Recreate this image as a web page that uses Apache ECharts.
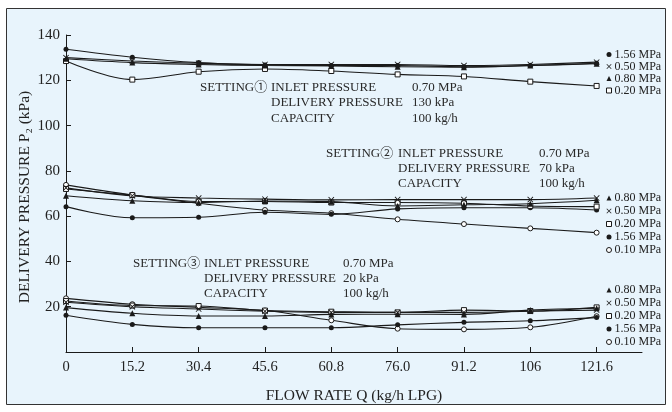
<!DOCTYPE html>
<html>
<head>
<meta charset="utf-8">
<script src="https://cdn.jsdelivr.net/npm/echarts@6/dist/echarts.min.js"></script>
<style>
html,body{margin:0;padding:0;background:#fff;}
#c{width:672px;height:412px;}
</style>
</head>
<body>
<div id="c"></div>
<script>
// ---- data ----
const xValues = [0, 15.2, 30.4, 45.6, 60.8, 76.0, 91.2, 106.4, 121.6];
const xTickLabels = ['0', '15.2', '30.4', '45.6', '60.8', '76.0', '91.2', '106', '121.6'];
const yTicks = [20, 40, 60, 80, 100, 120, 140];

// Setting 1 (delivery 130 kPa)
const s1_156 = [133.7, 130.2, 127.8, 126.8, 126.5, 126.5, 126.0, 126.5, 127.5];
const s1_050 = [130.0, 128.5, 127.5, 127.0, 127.0, 127.0, 126.5, 127.0, 128.0];
const s1_080 = [129.5, 127.8, 127.0, 126.5, 126.3, 126.0, 125.8, 126.5, 127.3];
const s1_020 = [128.5, 120.3, 123.8, 125.0, 124.1, 122.6, 121.7, 119.4, 117.5];

// Setting 2 (delivery 70 kPa)
const s2_080 = [69.0, 66.8, 66.0, 66.7, 66.4, 64.5, 65.0, 65.5, 67.0];
const s2_050 = [72.5, 69.0, 68.0, 67.5, 67.2, 67.3, 67.3, 67.3, 68.0];
const s2_020 = [72.0, 69.3, 66.5, 66.5, 66.0, 66.0, 65.7, 64.5, 64.2];
const s2_156 = [64.2, 59.3, 59.5, 61.7, 60.8, 63.2, 63.7, 63.7, 62.7];
const s2_010 = [73.8, 69.3, 65.7, 62.7, 61.3, 58.6, 56.5, 54.6, 52.7];

// Setting 3 (delivery 20 kPa)
const s3_080 = [19.6, 17.1, 15.9, 15.9, 16.6, 16.7, 16.6, 18.5, 19.3];
const s3_050 = [22.0, 20.0, 19.0, 18.0, 17.5, 17.5, 17.5, 18.0, 18.5];
const s3_020 = [22.5, 20.5, 20.3, 18.3, 17.8, 17.5, 18.5, 18.1, 19.7];
const s3_156 = [16.2, 12.2, 10.7, 10.7, 10.7, 12.0, 13.1, 13.8, 15.2];
const s3_010 = [23.7, 21.1, 19.7, 18.3, 14.0, 10.3, 10.0, 10.9, 15.8];

const legend1 = ['1.56 MPa', '0.50 MPa', '0.80 MPa', '0.20 MPa'];
const legend2 = ['0.80 MPa', '0.50 MPa', '0.20 MPa', '1.56 MPa', '0.10 MPa'];
const legend3 = ['0.80 MPa', '0.50 MPa', '0.20 MPa', '1.56 MPa', '0.10 MPa'];

const setting1 = ['SETTING①', 'INLET PRESSURE', '0.70 MPa', 'DELIVERY PRESSURE', '130 kPa', 'CAPACITY', '100 kg/h'];
const setting2 = ['SETTING②', 'INLET PRESSURE', '0.70 MPa', 'DELIVERY PRESSURE', '70 kPa', 'CAPACITY', '100 kg/h'];
const setting3 = ['SETTING③', 'INLET PRESSURE', '0.70 MPa', 'DELIVERY PRESSURE', '20 kPa', 'CAPACITY', '100 kg/h'];

const xName = 'FLOW RATE Q (kg/h LPG)';
const yName = 'DELIVERY PRESSURE P\u2082 (kPa)';

// ---- styles ----
const INK = '#1a1a1a';
const FONT = '"Liberation Serif", "DejaVu Serif", "Noto Sans CJK JP", serif';
const CROSS = 'path://M1,0L5,4L9,0L10,1L6,5L10,9L9,10L5,6L1,10L0,9L4,5L0,1Z';
const marks = {
  '1.56 MPa': {symbol: 'circle', size: 5, itemStyle: {color: INK, borderColor: INK, borderWidth: 0}},
  '0.50 MPa': {symbol: CROSS, size: 6, itemStyle: {color: INK, borderColor: INK, borderWidth: 0}},
  '0.80 MPa': {symbol: 'triangle', size: 6, itemStyle: {color: INK, borderColor: INK, borderWidth: 0}},
  '0.20 MPa': {symbol: 'rect', size: 5, itemStyle: {color: '#fff', borderColor: INK, borderWidth: 1}},
  '0.10 MPa': {symbol: 'circle', size: 5, itemStyle: {color: '#fff', borderColor: INK, borderWidth: 1}}
};

function mkSeries(name, vals) {
  const m = marks[name];
  return {
    type: 'line', name: name,
    data: xValues.map((x, i) => [x, vals[i]]),
    smooth: 0.35,
    symbol: m.symbol, symbolSize: m.size,
    showAllSymbol: true,
    itemStyle: m.itemStyle,
    lineStyle: {color: INK, width: 1.1},
    emphasis: {disabled: true},
    animation: false,
    z: 3
  };
}

const series = [
  mkSeries('0.20 MPa', s1_020), mkSeries('0.80 MPa', s1_080), mkSeries('0.50 MPa', s1_050), mkSeries('1.56 MPa', s1_156),
  mkSeries('0.10 MPa', s2_010), mkSeries('1.56 MPa', s2_156), mkSeries('0.20 MPa', s2_020), mkSeries('0.80 MPa', s2_080), mkSeries('0.50 MPa', s2_050),
  mkSeries('0.10 MPa', s3_010), mkSeries('1.56 MPa', s3_156), mkSeries('0.20 MPa', s3_020), mkSeries('0.80 MPa', s3_080), mkSeries('0.50 MPa', s3_050)
];

function mkLegend(names, top, gap) {
  return {
    orient: 'vertical', left: 606, top: top, padding: 0,
    itemWidth: 5, itemHeight: 5, itemGap: gap,
    selectedMode: false,
    textStyle: {fontFamily: FONT, fontSize: 12, color: '#222', lineHeight: 11, padding: [0, 0, 0, -2]},
    data: names.map(n => ({
      name: n,
      icon: marks[n].symbol,
      itemStyle: marks[n].itemStyle
    }))
  };
}

function settingBlock(t, x0, d1, d2, y0, dy) {
  const cols = [x0, x0 + d1, x0 + d1 + d2];
  const items = [
    [t[0], cols[0], y0], [t[1], cols[1], y0], [t[2], cols[2], y0],
    [t[3], cols[1], y0 + dy], [t[4], cols[2], y0 + dy],
    [t[5], cols[1], y0 + 2 * dy], [t[6], cols[2], y0 + 2 * dy]
  ];
  return items.map(it => ({
    type: 'text', x: it[1], y: it[2], z: 10,
    style: {text: it[0], font: '13px ' + FONT, fill: '#2a2a2a', verticalAlign: 'middle', align: 'left'}
  }));
}

const chart = echarts.init(document.getElementById('c'), null, {renderer: 'canvas'});
chart.setOption({
  animation: false,
  backgroundColor: '#ffffff',
  grid: {left: 66, top: 35, right: 30, bottom: 60, containLabel: false},
  xAxis: {
    type: 'value', min: 0, max: 132,
    name: xName, nameLocation: 'middle', nameGap: 36,
    nameTextStyle: {fontFamily: FONT, fontSize: 15.5, color: '#222'},
    axisLine: {lineStyle: {color: INK, width: 1}},
    axisTick: {inside: true, length: 5, lineStyle: {color: INK}, customValues: xValues},
    axisLabel: {
      customValues: xValues,
      fontFamily: FONT, fontSize: 14.5, color: '#222', margin: 8,
      formatter: v => { const i = xValues.findIndex(x => Math.abs(x - v) < 1e-6); return i >= 0 ? xTickLabels[i] : ''; }
    },
    splitLine: {show: false}
  },
  yAxis: {
    type: 'value', min: 0, max: 140,
    axisLine: {show: true, lineStyle: {color: INK, width: 1}},
    axisTick: {inside: true, length: 5, lineStyle: {color: INK}, customValues: yTicks},
    axisLabel: {customValues: yTicks, fontFamily: FONT, fontSize: 15, color: '#222', margin: 6},
    splitLine: {show: false}
  },
  legend: [mkLegend(legend1, 48.5, 0), mkLegend(legend2, 192, 1), mkLegend(legend3, 284, 1)],
  graphic: [
    {type: 'rect', z: -10, shape: {x: 6.5, y: 8.5, width: 659, height: 396},
     style: {fill: '#e8f4fc', stroke: '#333', lineWidth: 1}},
    {type: 'text', x: 25, y: 197, rotation: Math.PI / 2, z: 10,
     style: {text: yName, font: '15.5px ' + FONT, fill: '#222', align: 'center', verticalAlign: 'middle'}}
  ].concat(settingBlock(setting1, 200, 71, 141, 87.5, 15.5))
   .concat(settingBlock(setting2, 326, 72, 141, 153.5, 15))
   .concat(settingBlock(setting3, 133, 71, 139, 264, 15)),
  series: series
});
</script>
</body>
</html>
